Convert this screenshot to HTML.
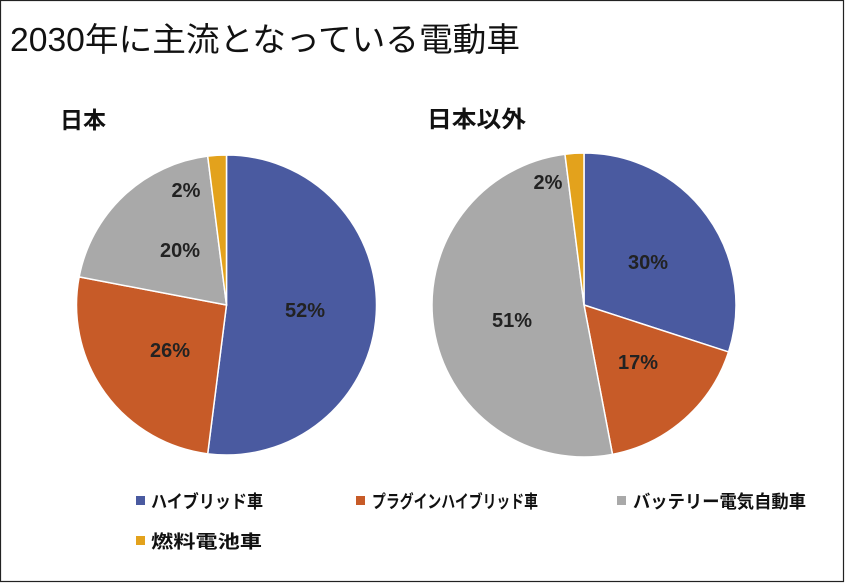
<!DOCTYPE html>
<html><head><meta charset="utf-8"><style>
body{margin:0;width:845px;height:583px;background:#fff;overflow:hidden}
svg text{font-family:"Liberation Sans","Noto Sans CJK JP",sans-serif}
</style></head><body>
<svg id="s" width="845" height="583" xmlns="http://www.w3.org/2000/svg">
<rect x="0.5" y="0.5" width="843" height="581" fill="#fff" stroke="#222" stroke-width="1.2"/>
<text x="10" y="51" font-size="33" fill="#111" textLength="510" lengthAdjust="spacingAndGlyphs">2030年に主流となっている電動車</text>
<text x="60" y="128" font-size="23" font-weight="bold" fill="#111">日本</text>
<text x="427" y="127" font-size="23" font-weight="bold" fill="#111" textLength="99" lengthAdjust="spacingAndGlyphs">日本以外</text>
<g id="p"></g>
<g font-size="20" font-weight="bold" fill="#222" text-anchor="middle">
<text x="305" y="317">52%</text><text x="170" y="357">26%</text>
<text x="180" y="257">20%</text><text x="186" y="197">2%</text>
<text x="648" y="269">30%</text><text x="638" y="369">17%</text>
<text x="512" y="327">51%</text><text x="548" y="189">2%</text>
</g>
<g font-size="18" font-weight="bold" fill="#111">
<rect x="136" y="496" width="9" height="9" fill="#4a5aa0"/>
<text x="151" y="508" textLength="112" lengthAdjust="spacingAndGlyphs">ハイブリッド車</text>
<rect x="356" y="496" width="9" height="9" fill="#c75b28"/>
<text x="372" y="508" textLength="166" lengthAdjust="spacingAndGlyphs">プラグインハイブリッド車</text>
<rect x="617" y="496" width="9" height="9" fill="#a9a9a9"/>
<text x="633" y="508" textLength="173" lengthAdjust="spacingAndGlyphs">バッテリー電気自動車</text>
<rect x="136" y="536" width="9" height="9" fill="#e3a21c"/>
<text x="151" y="548" textLength="111" lengthAdjust="spacingAndGlyphs">燃料電池車</text>
</g>
</svg>
<script>
var cols=["#4a5aa0","#c75b28","#a9a9a9","#e3a21c"];
function pie(cx,cy,r,v){var a=0,h="";v.forEach(function(p,i){var a2=a+p/100*2*Math.PI;
var x1=cx+r*Math.sin(a),y1=cy-r*Math.cos(a),x2=cx+r*Math.sin(a2),y2=cy-r*Math.cos(a2);
h+='<path d="M'+cx+' '+cy+'L'+x1+' '+y1+'A'+r+' '+r+' 0 '+(a2-a>Math.PI?1:0)+' 1 '+x2+' '+y2+'Z" fill="'+cols[i]+'" stroke="#fff" stroke-width="1.5"/>';a=a2;});return h;}
document.getElementById("p").innerHTML=pie(226.5,305,150,[52,26,20,2])+pie(584,305,152,[30,17,51,2]);
</script>
</body></html>
